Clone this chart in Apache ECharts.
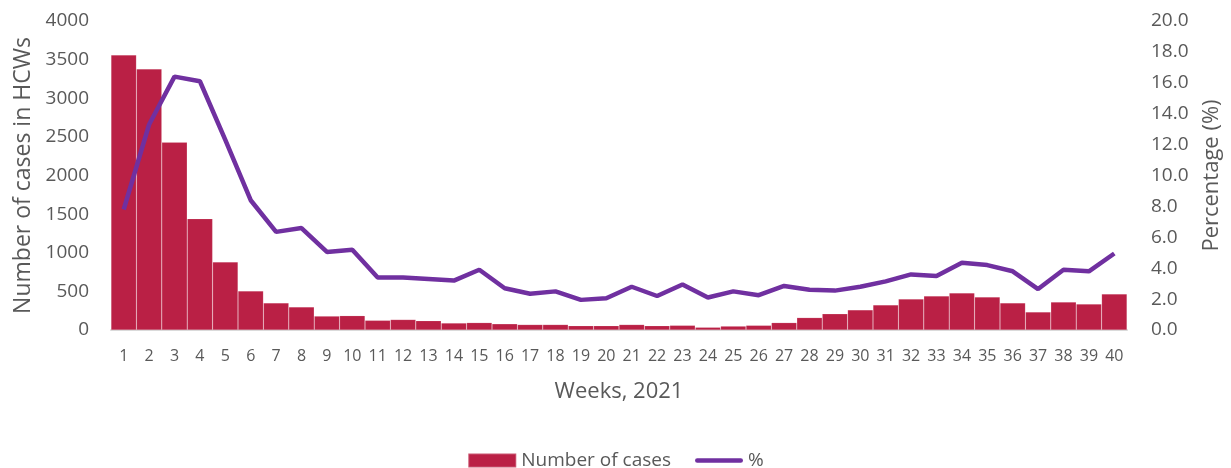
<!DOCTYPE html>
<html><head><meta charset="utf-8">
<script src="https://cdn.jsdelivr.net/npm/echarts@6/dist/echarts.min.js"></script>
<style>html,body{margin:0;padding:0;background:#fff}#c{width:1231px;height:468px}</style>
</head><body><div id="c"></div>
<script>
const weeks = Array.from({length:40},(_,i)=>String(i+1));
const cases = [3560,3380,2430,1440,880,505,350,298,180,185,125,135,120,90,95,80,70,70,55,55,70,55,60,35,50,60,95,160,210,260,324,401,440,479,427,350,233,362,336,466];
const pct = [7.8,13.3,16.4,16.1,12.3,8.4,6.35,6.6,5.05,5.2,3.4,3.4,3.3,3.2,3.9,2.7,2.35,2.5,1.95,2.05,2.8,2.2,2.95,2.1,2.5,2.25,2.85,2.6,2.55,2.8,3.15,3.6,3.5,4.35,4.2,3.8,2.65,3.9,3.8,4.95];
const leftTicks = {min:0,max:4000,interval:500};
const rightTicks = {min:0,max:20,interval:2};
const FONT = '"Open Sans", sans-serif';
const GREY = '#595959';
const chart = echarts.init(document.getElementById('c'));
chart.setOption({
  animation:false,
  textStyle:{fontFamily:FONT,color:GREY},
  grid:{left:111,right:97,top:21,bottom:138},
  legend:{top:446,left:'center',itemWidth:48,itemHeight:14,itemGap:24,
    textStyle:{fontFamily:FONT,color:GREY,fontSize:19},
    data:[{name:'Number of cases',icon:'rect'},
          {name:'%',icon:'path://M2,0 L50,0 A2,2 0 0 1 50,5 L2,5 A2,2 0 0 1 2,0 Z'}]},
  xAxis:{type:'category',data:weeks,
    name:'Weeks, 2021',nameLocation:'middle',nameGap:51,
    nameTextStyle:{fontFamily:FONT,color:GREY,fontSize:22},
    axisLine:{lineStyle:{color:'#d9d9d9',width:2}},axisTick:{show:false},
    axisLabel:{color:GREY,fontSize:16,margin:18,interval:0}},
  yAxis:[
    {type:'value',...leftTicks,name:'Number of cases in HCWs',nameLocation:'middle',nameGap:75,
     nameTextStyle:{fontFamily:FONT,color:GREY,fontSize:23},
     splitLine:{show:false},axisLine:{show:false},axisTick:{show:false},
     axisLabel:{color:GREY,fontSize:19,margin:22,formatter:v=>String(v)}},
    {type:'value',...rightTicks,name:'Percentage (%)',nameLocation:'middle',nameGap:74,nameRotate:90,
     nameTextStyle:{fontFamily:FONT,color:GREY,fontSize:22},
     splitLine:{show:false},axisLine:{show:false},axisTick:{show:false},
     axisLabel:{color:GREY,fontSize:19,margin:24,formatter:v=>v.toFixed(1)}}
  ],
  series:[
    {name:'Number of cases',type:'bar',data:cases,barCategoryGap:'0%',
     itemStyle:{color:'#BA2045',borderColor:'rgba(255,255,255,0.25)',borderWidth:0.5}},
    {name:'%',type:'line',yAxisIndex:1,data:pct,symbol:'none',
     lineStyle:{color:'#7030A0',width:4.5},itemStyle:{color:'#7030A0'}}
  ]
});
</script></body></html>
